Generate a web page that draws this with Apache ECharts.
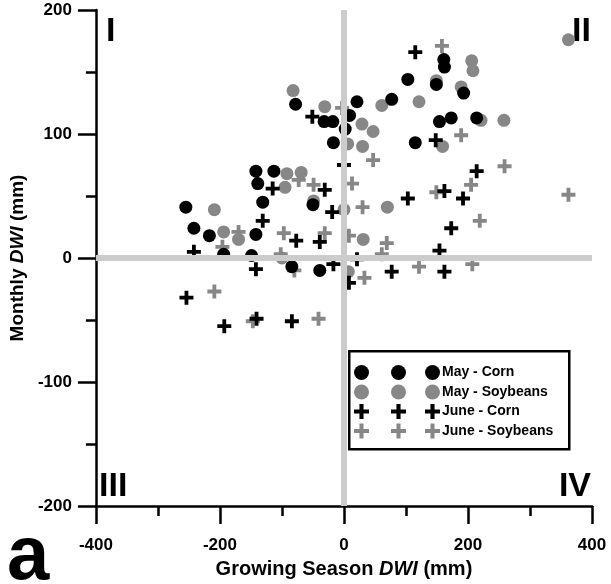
<!DOCTYPE html>
<html>
<head>
<meta charset="utf-8">
<script src="https://cdn.jsdelivr.net/npm/echarts@6/dist/echarts.min.js"></script>
<style>
  html, body { margin: 0; padding: 0; background: #fff; }
  #chart { width: 611px; height: 584px; }
</style>
</head>
<body>
<div id="chart"></div>
<script>
// Growing season DWI (x) vs monthly DWI (y), mm
var mayCorn = [
  [-255, 41], [-242, 24], [-217, 18], [-194, 3], [-142, 70], [-113, 70], [-139, 60],
  [-131, 45], [-142, 19], [-149, 2], [-84, -7], [-39, -10], [-50, 43], [-78, 124],
  [-32, 110], [-18, 110], [-17, 93], [2, 104], [9, 115], [21, 126], [77, 128],
  [103, 144], [149, 140], [161, 160], [162, 154], [193, 133], [173, 113], [154, 110],
  [214, 113], [115, 93]
];
var maySoybeans = [
  [-209, 39], [-194, 21], [-170, 15], [-92, 68], [-69, 69], [-95, 57], [-49, 46],
  [0, 39], [-100, 0], [7, -11], [-82, 135], [-31, 122], [362, 176], [206, 159],
  [208, 151], [149, 143], [189, 138], [121, 126], [61, 123], [29, 108], [47, 102],
  [6, 92], [30, 90], [221, 111], [258, 111], [159, 90], [70, 41], [31, 15]
];
var juneCorn = [
  [0, 75], [-115, 56], [-31, 55], [-19, 37], [-131, 30], [-77, 14], [-39, 13],
  [-242, 5], [-142, -9], [-17, -5], [8, -20], [-254, -32], [-193, -55], [-141, -49],
  [-84, -51], [-51, 114], [115, 166], [148, 95], [214, 70], [103, 48], [162, 54],
  [192, 48], [173, 24], [154, 6], [21, -1], [77, -11], [162, -11]
];
var juneSoybeans = [
  [-73, 63], [-49, 59], [-170, 21], [-196, 9], [-97, 20], [-31, 20], [8, 18],
  [-102, 3], [-80, -10], [-209, -27], [-147, -51], [-41, -49], [-3, 121], [158, 171],
  [189, 99], [47, 79], [259, 74], [362, 51], [13, 60], [205, 59], [149, 53],
  [30, 41], [219, 30], [69, 12], [61, 3], [121, -7], [207, -5], [33, -16]
];
var seriesNames = ['May - Corn', 'May - Soybeans', 'June - Corn', 'June - Soybeans'];
var quadrantLabels = ['I', 'II', 'III', 'IV'];

var FONT = '"Liberation Sans", Arial, sans-serif';
var BLACK = '#000000';
var GREY = '#878787';
var CROSS = 'path://M8,0H14V8H22V14H14V22H8V14H0V8H8Z';

var chart = echarts.init(document.getElementById('chart'));

function legendBlock(left, showText) {
  return {
    orient: 'vertical',
    left: left,
    top: 365,
    itemWidth: 15,
    itemHeight: 15,
    itemGap: 4.5,
    selectedMode: false,
    padding: 0,
    data: [
      { name: seriesNames[0], icon: 'circle', itemStyle: { color: BLACK, opacity: 1 } },
      { name: seriesNames[1], icon: 'circle', itemStyle: { color: GREY, opacity: 1 } },
      { name: seriesNames[2], icon: CROSS, itemStyle: { color: BLACK, opacity: 1 } },
      { name: seriesNames[3], icon: CROSS, itemStyle: { color: GREY, opacity: 1 } }
    ],
    formatter: showText ? '{name}' : function () { return ''; },
    textStyle: { fontFamily: FONT, fontWeight: 'bold', fontSize: 14, color: BLACK, padding: [0, 0, 0, -3] }
  };
}

var option = {
  animation: false,
  backgroundColor: '#fff',
  grid: { left: 91, right: 19, top: 10, bottom: 73 },
  legend: [legendBlock(354, false), legendBlock(391, false), legendBlock(425, true)],
  xAxis: {
    type: 'value',
    min: -400,
    max: 400,
    interval: 200,
    name: 'Growing Season {i|DWI} (mm)',
    nameLocation: 'middle',
    nameGap: 53,
    nameTextStyle: {
      fontFamily: FONT, fontWeight: 'bold', fontSize: 20, color: BLACK,
      rich: { i: { fontFamily: FONT, fontWeight: 'bold', fontStyle: 'italic', fontSize: 20, color: BLACK } }
    },
    axisLine: { onZero: false, lineStyle: { color: BLACK, width: 2.5 } },
    axisTick: { length: 18, lineStyle: { color: BLACK, width: 2.5 } },
    minorTick: { show: true, splitNumber: 2, length: 10, lineStyle: { color: BLACK, width: 2.5 } },
    axisLabel: { margin: 31, fontFamily: FONT, fontWeight: 'bold', fontSize: 17, color: BLACK },
    splitLine: { show: false }
  },
  yAxis: {
    type: 'value',
    min: -200,
    max: 200,
    interval: 100,
    name: 'Monthly {i|DWI} (mm)',
    nameLocation: 'middle',
    nameGap: 62,
    nameTextStyle: {
      fontFamily: FONT, fontWeight: 'bold', fontSize: 19, color: BLACK,
      rich: { i: { fontFamily: FONT, fontWeight: 'bold', fontStyle: 'italic', fontSize: 19, color: BLACK } }
    },
    axisLine: { onZero: false, lineStyle: { color: BLACK, width: 2.5 } },
    axisTick: { length: 18, lineStyle: { color: BLACK, width: 2.5 } },
    minorTick: { show: true, splitNumber: 2, length: 10, lineStyle: { color: BLACK, width: 2.5 } },
    axisLabel: { margin: 24, fontFamily: FONT, fontWeight: 'bold', fontSize: 17, color: BLACK },
    splitLine: { show: false }
  },
  series: [
    {
      type: 'line',
      data: [],
      z: 1,
      silent: true,
      markLine: {
        silent: true,
        symbol: 'none',
        label: { show: false },
        lineStyle: { color: '#cccccc', width: 6, type: 'solid', opacity: 1 },
        data: [{ xAxis: 0 }, { yAxis: 0 }]
      }
    },
    {
      name: seriesNames[1], type: 'scatter', data: maySoybeans,
      symbol: 'circle', symbolSize: 13, itemStyle: { color: GREY, opacity: 1 }, z: 2
    },
    {
      name: seriesNames[3], type: 'scatter', data: juneSoybeans,
      symbol: CROSS, symbolSize: 14, itemStyle: { color: GREY, opacity: 1 }, z: 2
    },
    {
      name: seriesNames[0], type: 'scatter', data: mayCorn,
      symbol: 'circle', symbolSize: 13, itemStyle: { color: BLACK, opacity: 1 }, z: 3
    },
    {
      name: seriesNames[2], type: 'scatter', data: juneCorn,
      symbol: CROSS, symbolSize: 14, itemStyle: { color: BLACK, opacity: 1 }, z: 3
    }
  ],
  graphic: [
    {
      type: 'rect', left: 348, top: 350, z: 0,
      shape: { width: 220, height: 98 },
      style: { fill: '#fff', stroke: BLACK, lineWidth: 2.5 }
    },
    { type: 'text', left: 106, top: 15, style: { text: quadrantLabels[0], font: 'bold 34px ' + FONT, fill: BLACK } },
    { type: 'text', right: 20, top: 15, style: { text: quadrantLabels[1], font: 'bold 34px ' + FONT, fill: BLACK } },
    { type: 'text', left: 99, top: 470, style: { text: quadrantLabels[2], font: 'bold 34px ' + FONT, fill: BLACK } },
    { type: 'text', right: 20, top: 470, style: { text: quadrantLabels[3], font: 'bold 34px ' + FONT, fill: BLACK } },
    { type: 'text', left: 7, top: 520, style: { text: 'a', font: 'bold 76px ' + FONT, fill: BLACK } }
  ]
};

chart.setOption(option);
</script>
</body>
</html>
